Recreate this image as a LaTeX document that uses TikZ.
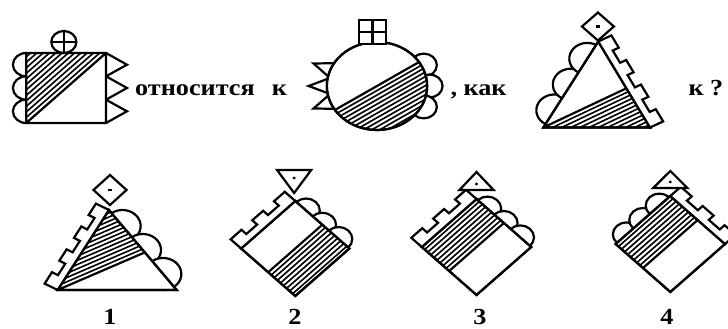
\documentclass[tikz,border=0pt]{standalone}
\usepackage{fontspec}
\setmainfont{Liberation Serif}
\usetikzlibrary{calc}

\newcommand{\stripH}{13}
\newcommand{\stripL}{7}

% toothed strip along the x axis: #1 length, #2 notches
\newcommand{\crenel}[2]{%
  \pgfmathsetmacro{\crseg}{#1/(2*#2+1)}
  \draw[body] (0,0) -- (0,\stripH)
    foreach \i in {1,...,#2} {
      -- ({(2*\i-1)*\crseg},\stripH) -- ({(2*\i-1)*\crseg},\stripL)
      -- ({2*\i*\crseg},\stripL) -- ({2*\i*\crseg},\stripH)}
    -- (#1,\stripH) -- (#1,0) -- cycle;}

% three round bumps along the x axis: #1 length, #2 radius
\newcommand{\bumps}[2]{%
  \foreach \f in {0.2,0.5,0.8}
    \draw[body] (\f*#1,0) circle (#2);}

\begin{document}
\begin{tikzpicture}[x=1pt, y=1pt, xscale=1.14,
  body/.style={draw, line width=2.2pt, fill=white},
  bare/.style={draw, line width=2.2pt},
  hatch/.style={line width=1.6pt},
  lbl/.style={font=\fontsize{23}{23}\selectfont\bfseries, transform shape, inner sep=0pt}
]
\useasboundingbox (0,0) rectangle (638.6,329);

%% Top row -- square
\draw[body] (23,276) arc (90:270:11.67) arc (90:270:11.67) arc (90:270:11.67);
\draw[body] (93,276) -- (111.4,264.3) -- (93,252.7) -- (111.4,241)
  -- (93,229.3) -- (111.4,217.7) -- (93,206);
\draw[body] (23,206) rectangle (93,276);
\begin{scope}
  \clip (23,206) -- (23,276) -- (93,276) -- cycle;
  \begin{scope}[shift={(58,241)}, rotate=45]
    \foreach \k in {0,...,13} \draw[hatch] (-60,\k*3.9) -- (60,\k*3.9);
  \end{scope}
\end{scope}
\draw[bare] (23,206) rectangle (93,276) (23,206) -- (93,276);
\draw[body] (56,287) circle (11);
\draw[bare] (45,287) -- (67,287) (56,276) -- (56,298);

%% Top row -- circle
\begin{scope}[shift={(330.7,243)}]
  \foreach \a in {158,180,202}
    \draw[body] (\a-11:42) -- (\a:60) -- (\a+11:42);
  \foreach \a in {27,0,-27}
    \draw[body] (\a:46) circle (11.5);
  \draw[body] (0,0) circle (44);
  \begin{scope}[rotate=33]
    \clip (-44,0) arc (180:360:44) -- cycle;
    \foreach \k in {1,...,12} \draw[hatch] (-50,-\k*3.8) -- (50,-\k*3.8);
  \end{scope}
  \draw[bare] (0,0) circle (44) (213:44) -- (33:44);
  \draw[body] (-16,42) rectangle (8,66);
  \draw[bare] (-4,42) -- (-4,66) (-16,54) -- (8,54);
\end{scope}

%% Top row -- triangle
\begin{scope}[shift={(476.6,201.5)}, rotate=60.73] \bumps{98.59}{15.8} \end{scope}
\draw[body] (476.6,201.5) -- (524.8,287.5) -- (570.2,201.5) -- cycle;
\begin{scope}
  \clip (476.6,201.5) -- (549.5,240.7) -- (570.2,201.5) -- cycle;
  \begin{scope}[shift={(476.6,201.5)}, rotate=28.3]
    \foreach \k in {1,...,12} \draw[hatch] (-10,-\k*3.8) -- (130,-\k*3.8);
  \end{scope}
\end{scope}
\draw[bare] (476.6,201.5) -- (524.8,287.5) -- (570.2,201.5) -- cycle
  (476.6,201.5) -- (549.5,240.7);
\begin{scope}[shift={(524.8,287.5)}, rotate=-62.17] \crenel{97.25}{3} \end{scope}
\draw[body] (524.5,288.5) -- (538.5,302.5) -- (524.5,316.5) -- (510.5,302.5) -- cycle;
\draw[bare] (522.5,302.5) -- (526.5,302.5);

%% Bottom row -- 1
\begin{scope}[shift={(95.5,119)}, rotate=-53.36] \bumps{99.7}{16} \end{scope}
\draw[body] (50.5,39) -- (95.5,119) -- (155,39) -- cycle;
\begin{scope}
  \clip (50.5,39) -- (95.5,119) -- (127,76.6) -- cycle;
  \begin{scope}[shift={(50.5,39)}, rotate=26.2]
    \foreach \k in {1,...,14} \draw[hatch] (-10,\k*3.8) -- (130,\k*3.8);
  \end{scope}
\end{scope}
\draw[bare] (50.5,39) -- (95.5,119) -- (155,39) -- cycle (50.5,39) -- (127,76.6);
\begin{scope}[shift={(50.5,39)}, rotate=60.64] \crenel{91.79}{3} \end{scope}
\draw[body] (96.5,124) -- (111,139) -- (96.5,154) -- (82,139) -- cycle;
\draw[bare] (94.5,139) -- (98.5,139);

%% Bottom row -- 2
\begin{scope}[shift={(259,128)}, rotate=-45] \bumps{67.18}{12} \end{scope}
\draw[body] (211.5,80.5) -- (259,128) -- (306.5,80.5) -- (259,33) -- cycle;
\begin{scope}
  \clip (235.25,56.75) -- (282.75,104.25) -- (306.5,80.5) -- (259,33) -- cycle;
  \begin{scope}[shift={(259,80.5)}, rotate=45]
    \foreach \k in {1,...,9} \draw[hatch] (-40,-\k*3.8) -- (40,-\k*3.8);
  \end{scope}
\end{scope}
\draw[bare] (211.5,80.5) -- (259,128) -- (306.5,80.5) -- (259,33) -- cycle
  (235.25,56.75) -- (282.75,104.25);
\begin{scope}[shift={(211.5,80.5)}, rotate=45] \crenel{67.18}{2} \end{scope}
\draw[body] (243,159) -- (273,159) -- (258,136) -- cycle;
\fill (258,151) circle (1.5);

%% Bottom row -- 3
\begin{scope}[shift={(418,130)}, rotate=-45] \bumps{67.88}{12} \end{scope}
\draw[body] (370,82) -- (418,130) -- (466,82) -- (418,34) -- cycle;
\begin{scope}
  \clip (370,82) -- (418,130) -- (442,106) -- (394,58) -- cycle;
  \begin{scope}[shift={(418,82)}, rotate=45]
    \foreach \k in {1,...,9} \draw[hatch] (-40,\k*3.8) -- (40,\k*3.8);
  \end{scope}
\end{scope}
\draw[bare] (370,82) -- (418,130) -- (466,82) -- (418,34) -- cycle
  (394,58) -- (442,106);
\begin{scope}[shift={(370,82)}, rotate=45] \crenel{67.88}{2} \end{scope}
\draw[body] (403,139) -- (433,139) -- (418,157) -- cycle;
\fill (418,145) circle (1.5);

%% Bottom row -- 4
\begin{scope}[shift={(540,85)}, rotate=45] \bumps{67.88}{12} \end{scope}
\draw[body] (540,85) -- (588,133) -- (636,85) -- (588,37) -- cycle;
\begin{scope}
  \clip (540,85) -- (588,133) -- (612,109) -- (564,61) -- cycle;
  \begin{scope}[shift={(588,85)}, rotate=45]
    \foreach \k in {1,...,9} \draw[hatch] (-40,\k*3.8) -- (40,\k*3.8);
  \end{scope}
\end{scope}
\draw[bare] (540,85) -- (588,133) -- (636,85) -- (588,37) -- cycle
  (564,61) -- (612,109);
\begin{scope}[shift={(588,133)}, rotate=-45] \crenel{67.88}{2} \end{scope}
\draw[body] (573,141) -- (603,141) -- (588,158) -- cycle;
\fill (588,147) circle (1.5);

%% Texts
\node[lbl, anchor=base west] (relto) at (118.4,233) {относится\hspace{15pt}к};
\node[lbl, anchor=base west] (aslike) at (395,233) {, как};
\node[lbl, anchor=base west] (toask) at (603.8,233) {к ?};
\node[lbl, anchor=base] (num1) at (96.5,4) {1};
\node[lbl, anchor=base] (num2) at (258.8,4) {2};
\node[lbl, anchor=base] (num3) at (421,4) {3};
\node[lbl, anchor=base] (num4) at (585,4) {4};

\end{tikzpicture}
\end{document}
